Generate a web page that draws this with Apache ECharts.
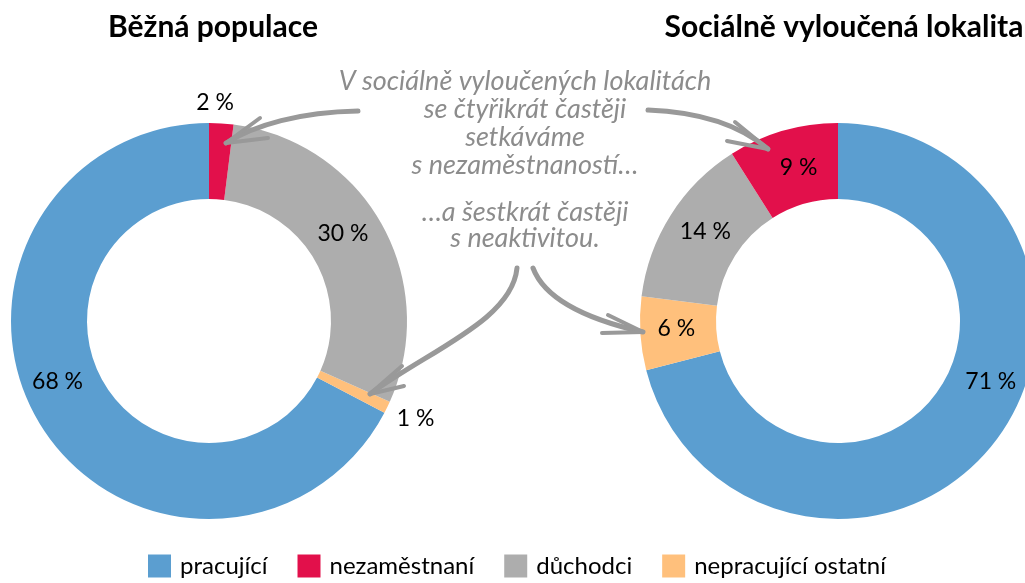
<!DOCTYPE html>
<html lang="cs">
<head>
    <meta charset="UTF-8">
    <title>Běžná populace vs. sociálně vyloučená lokalita</title>
    <style>
        html, body {margin: 0; padding: 0; background: #fff;}
        #main {width: 1025px; height: 583px;}
    </style>
    <script type="text/javascript" src="https://cdn.jsdelivr.net/npm/echarts/dist/echarts.min.js"></script>
</head>
<body>
<div id="main"></div>
<script>
    // categories in legend order
    var categories = ['pracující', 'nezaměstnaní', 'důchodci', 'nepracující ostatní']
    var colors = ['#5b9ed0', '#e2104b', '#adadad', '#ffc07c']
    // percentages, same order as categories
    var bezna = [68, 2, 30, 1]
    var vyloucena = [71, 9, 14, 6]
    var titles = ['Běžná populace', 'Sociálně vyloučená lokalita']
    var noteTop = ['V sociálně vyloučených lokalitách', 'se čtyřikrát častěji', 'setkáváme', 's nezaměstnaností…']
    var noteBottom = ['…a šestkrát častěji', 's neaktivitou.']

    // slices are drawn in this order: pracující, ostatní, důchodci, nezaměstnaní
    var drawOrder = [0, 3, 2, 1]
    function pieData(values) {
        return drawOrder.map(function (i) {
            return {name: categories[i], value: values[i], itemStyle: {color: colors[i]}}
        })
    }

    // label nudges (like Excel's best fit), keyed by series then slice name
    var nudge = [
        {'pracující': [-12, -24], 'nepracující ostatní': [60, 27], 'důchodci': [-8, -7], 'nezaměstnaní': [-4, -56]},
        {'pracující': [24, -39], 'nepracující ostatní': [1, -3], 'důchodci': [5, -2], 'nezaměstnaní': [6, 3]}
    ]

    var font = 'Lato, "Open Sans", sans-serif'
    var grey = '#999999'

    function pie(values, cx, clockwise) {
        return {
            type: 'pie',
            center: [cx, 321],
            radius: [122, 198],
            startAngle: 90,
            clockwise: clockwise,
            silent: true,
            avoidLabelOverlap: false,
            label: {
                show: true,
                position: 'inside',
                formatter: '{c} %',
                color: '#000',
                fontFamily: font,
                fontSize: 23
            },
            labelLine: {show: false},
            labelLayout: function (p) {
                var d = nudge[p.seriesIndex][categories[drawOrder[p.dataIndex]]] || [0, 0]
                return {dx: d[0], dy: d[1]}
            },
            data: pieData(values)
        }
    }

    var graphics = []
    function noteLine(t, y) {
        graphics.push({type: 'text', z: 100, silent: true,
            style: {text: t, x: 0, y: 0, fill: '#8c8c8c', font: 'italic 27px ' + font, textAlign: 'center', textVerticalAlign: 'middle'},
            position: [525, y]})
    }
    noteTop.forEach(function (t, i) { noteLine(t, 81 + i * 28) })
    noteBottom.forEach(function (t, i) { noteLine(t, 212 + i * 26) })

    // hand-drawn style arrows
    var arrows = [
        {c: [358, 111, 300, 112, 255, 125, 226, 143], h: [[260, 118], [226, 143], [268, 138]]},
        {c: [648, 110, 700, 112, 740, 125, 768, 149], h: [[735, 122], [768, 149], [727, 141]]},
        {c: [517, 268, 512, 320, 430, 350, 370, 394], h: [[402, 366], [370, 394], [404, 386]]},
        {c: [533, 268, 545, 300, 590, 320, 643, 332], h: [[608, 315], [643, 332], [602, 333]]}
    ]
    arrows.forEach(function (a) {
        graphics.push({type: 'bezierCurve', silent: true, z: 100,
            shape: {x1: a.c[0], y1: a.c[1], cpx1: a.c[2], cpy1: a.c[3], cpx2: a.c[4], cpy2: a.c[5], x2: a.c[6], y2: a.c[7]},
            style: {stroke: grey, lineWidth: 5, fill: null, lineCap: 'round'}})
        graphics.push({type: 'polyline', silent: true, z: 100,
            shape: {points: a.h},
            style: {stroke: grey, lineWidth: 4, fill: null, lineCap: 'round', lineJoin: 'round'}})
    })

    var myChart = echarts.init(document.getElementById('main'))
    myChart.setOption({
        animation: false,
        textStyle: {fontFamily: font},
        title: [{
            text: titles[0], left: 208, top: 7, textAlign: 'center',
            textStyle: {fontFamily: font, fontSize: 30, fontWeight: 'bold', color: '#000'}
        }, {
            text: titles[1], left: 839, top: 7, textAlign: 'center',
            textStyle: {fontFamily: font, fontSize: 30, fontWeight: 'bold', color: '#000'}
        }],
        legend: {
            data: categories,
            left: 143,
            bottom: 0,
            icon: 'rect',
            itemWidth: 23,
            itemHeight: 23,
            itemGap: 30,
            selectedMode: false,
            textStyle: {fontFamily: font, fontSize: 24, color: '#000', padding: [0, 0, 0, 4]}
        },
        series: [pie(bezna, 209, false), pie(vyloucena, 838, true)],
        graphic: graphics
    })
</script>
</body>
</html>
